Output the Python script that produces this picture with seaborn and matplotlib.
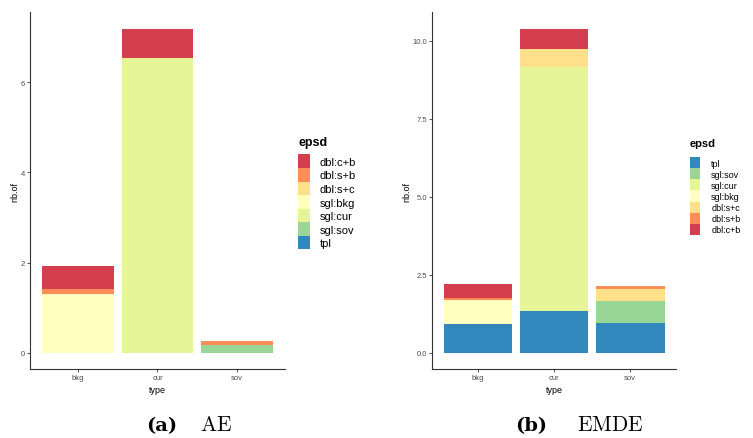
"""
Stacked bar counts per episode type, AE vs EMDE.
"""
import matplotlib
matplotlib.use("Agg")
import matplotlib.pyplot as plt
import pandas as pd
import seaborn as sns
from matplotlib.patches import Patch

# --- data -------------------------------------------------------------
types = ["bkg", "cur", "sov"]
epsd_levels = ["dbl:c+b", "dbl:s+b", "dbl:s+c", "sgl:bkg", "sgl:cur", "sgl:sov", "tpl"]
spectral = ["#D53E4F", "#FC8D59", "#FEE08B", "#FFFFBF", "#E6F598", "#99D594", "#3288BD"]

# one row per epsd level, columns follow `types`
ae_nb = [
    [0.52, 0.66, 0.00],
    [0.10, 0.00, 0.09],
    [0.00, 0.00, 0.00],
    [1.31, 0.00, 0.00],
    [0.00, 6.53, 0.00],
    [0.00, 0.00, 0.17],
    [0.00, 0.00, 0.00],
]
emde_nb = [
    [0.45, 0.67, 0.00],
    [0.09, 0.00, 0.09],
    [0.00, 0.58, 0.40],
    [0.77, 0.00, 0.00],
    [0.00, 7.81, 0.00],
    [0.00, 0.00, 0.71],
    [0.91, 1.34, 0.94],
]
ae_yticks = [0, 2, 4, 6]
ae_yticklabels = ["0", "2", "4", "6"]
emde_yticks = [0, 2.5, 5, 7.5, 10]
emde_yticklabels = ["0.0", "2.5", "5.0", "7.5", "10.0"]

AXIS_COLOR = "#333333"
TEXT_GRAY = "#4D4D4D"
SANS = ["Liberation Sans", "DejaVu Sans"]

sns.set_theme(style="white")
plt.rcParams["font.family"] = SANS
plt.rcParams["mathtext.fontset"] = "cm"
plt.rcParams["text.color"] = "black"


def to_long(nb):
    rows = []
    for level, vals in zip(epsd_levels, nb):
        for t, v in zip(types, vals):
            rows.append({"type": t, "epsd": level, "nb.of": v})
    return pd.DataFrame(rows)


def draw_panel(ax, nb, yticks, yticklabels, ylabel_x):
    df = to_long(nb)
    sns.histplot(
        data=df, x="type", hue="epsd", weights="nb.of",
        multiple="stack", discrete=True, shrink=0.9,
        hue_order=epsd_levels, palette=dict(zip(epsd_levels, spectral)),
        linewidth=0, alpha=1, legend=False, ax=ax,
    )
    top = df.groupby("type")["nb.of"].sum().max()
    ax.set_ylim(-0.05 * top, 1.05 * top)
    ax.set_xlim(-0.6, 2.6)
    ax.set_xticks(range(len(types)))
    ax.set_xticklabels(types)
    ax.set_yticks(yticks)
    ax.set_yticklabels(yticklabels)
    ax.tick_params(axis="both", labelsize=5.5, labelcolor=TEXT_GRAY,
                   length=2, width=0.6, color=AXIS_COLOR, pad=1.5,
                   bottom=True, left=True)
    for side in ["top", "right"]:
        ax.spines[side].set_visible(False)
    for side in ["left", "bottom"]:
        ax.spines[side].set_color(AXIS_COLOR)
        ax.spines[side].set_linewidth(0.8)
    ax.set_xlabel("type", fontsize=6.5, color="black")
    ax.set_ylabel("nb.of", fontsize=6.5, color="black")
    ax.yaxis.set_label_coords(ylabel_x, 0.5)
    ax.xaxis.set_label_coords(0.5, -0.045)
    ax.grid(False)


def add_legend(handles, anchor, size, title_size, hh, textpad, title_gap):
    leg = fig.legend(handles=handles, title="epsd", loc="upper left",
                     bbox_to_anchor=anchor, frameon=False, fontsize=size,
                     title_fontproperties={"weight": "bold", "size": title_size,
                                           "family": SANS},
                     handlelength=1.1, handleheight=hh, labelspacing=0.0,
                     handletextpad=textpad, borderpad=0, borderaxespad=0,
                     alignment="left", labelcolor="black")
    leg.get_title().set_color("black")
    leg._legend_box.sep = title_gap
    return leg


def add_caption(x_label, x_name, label, name):
    y = 1 - 431 / 439
    fig.text(x_label / 753, y, label, ha="left", va="baseline", color="black",
             fontsize=14, family="DejaVu Serif", weight="bold")
    fig.text(x_name / 753, y, r"$\mathrm{" + name + "}$", ha="left",
             va="baseline", fontsize=15.5, color="black")


fig = plt.figure(figsize=(7.53, 4.39), dpi=100)
ax_ae = fig.add_axes([0.0398, 0.1572, 0.3386, 0.8125])
ax_emde = fig.add_axes([0.5741, 0.1572, 0.3236, 0.8125])

draw_panel(ax_ae, ae_nb, ae_yticks, ae_yticklabels, -0.043)
draw_panel(ax_emde, emde_nb, emde_yticks, emde_yticklabels, -0.085)

palette = dict(zip(epsd_levels, spectral))

# legends: AE in level order, EMDE reversed
handles_ae = [Patch(facecolor=palette[l], edgecolor="none", linewidth=0, label=l)
              for l in epsd_levels]
add_legend(handles_ae, (0.396, 0.689), 8, 9, 1.5, 0.8, 5)

handles_emde = [Patch(facecolor=palette[l], edgecolor="none", linewidth=0, label=l)
                for l in epsd_levels[::-1]]
add_legend(handles_emde, (0.9163, 0.684), 6.5, 8, 1.5, 1.25, 7)

# subfigure captions
add_caption(146, 200, "(a)", "AE")
add_caption(515, 577, "(b)", "EMDE")

fig.savefig("out.png", dpi=100)
plt.close(fig)
